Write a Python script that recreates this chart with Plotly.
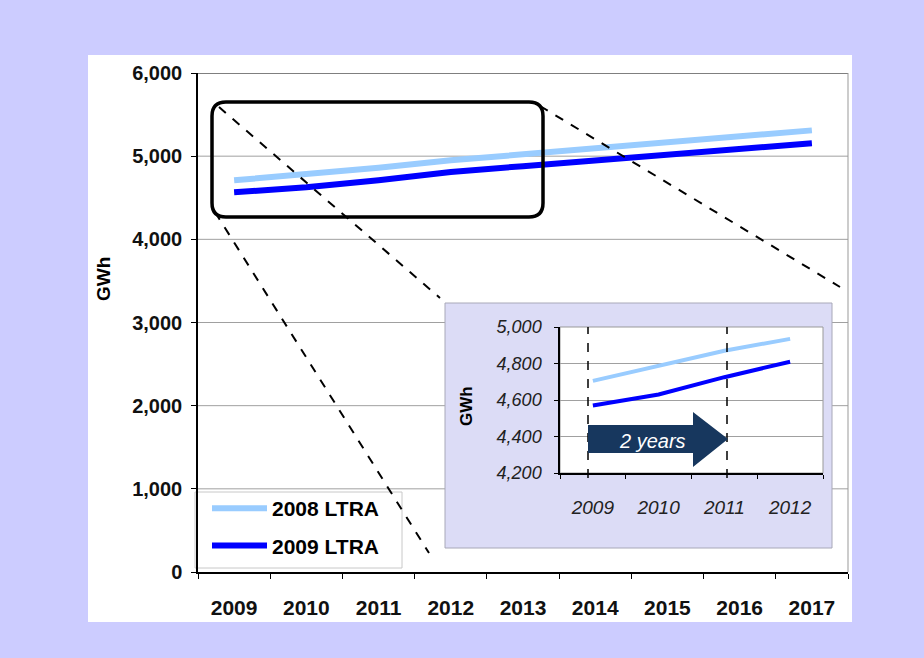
import plotly.graph_objects as go

# ---------------- data ----------------
years = ["2009", "2010", "2011", "2012", "2013", "2014", "2015", "2016", "2017"]
ltra_2008 = [4710, 4780, 4860, 4950, 5020, 5090, 5160, 5230, 5310]
ltra_2009 = [4565, 4625, 4710, 4810, 4880, 4950, 5030, 5090, 5155]

inset_years = ["2009", "2010", "2011", "2012"]
inset_2008 = [4705, 4785, 4870, 4935]
inset_2009 = [4570, 4630, 4725, 4810]

main_grid = [1000, 2000, 3000, 4000, 5000]

# ---------------- layout helpers ----------------
W, H = 924, 658
L, R, T, B = 198, 848, 73, 572


def px(x):
    return (x - L) / (R - L)


def py(y):
    return (B - y) / (B - T)


def pt(x, y):
    return f"{px(x):.5f},{py(y):.5f}"


LIGHT = "#99ccff"
DARK = "#0000ff"
FONT = "Liberation Sans, Arial, sans-serif"

fig = go.Figure()

fig.add_trace(go.Scatter(x=years, y=ltra_2008, mode="lines", name="2008 LTRA",
                         line=dict(color=LIGHT, width=6), legendgroup="a",
                         xaxis="x", yaxis="y"))
fig.add_trace(go.Scatter(x=years, y=ltra_2009, mode="lines", name="2009 LTRA",
                         line=dict(color=DARK, width=6), legendgroup="b",
                         xaxis="x", yaxis="y"))

fig.add_trace(go.Scatter(x=inset_years, y=inset_2008, mode="lines", showlegend=False,
                         line=dict(color=LIGHT, width=4), xaxis="x2", yaxis="y2"))
fig.add_trace(go.Scatter(x=inset_years, y=inset_2009, mode="lines", showlegend=False,
                         line=dict(color=DARK, width=4), xaxis="x2", yaxis="y2"))

shapes = []
# white panel
shapes.append(dict(type="rect", xref="paper", yref="paper", layer="below",
                   x0=px(88), x1=px(852), y0=py(622), y1=py(55),
                   fillcolor="white", line=dict(width=0)))
# main gridlines
for v in main_grid:
    shapes.append(dict(type="line", xref="paper", yref="y", layer="below",
                       x0=0, x1=1, y0=v, y1=v, line=dict(color="#a0a0a0", width=1)))
shapes.append(dict(type="line", xref="paper", yref="y", layer="below",
                   x0=0, x1=1, y0=6000, y1=6000, line=dict(color="#555555", width=1.5)))
shapes.append(dict(type="line", xref="paper", yref="paper", layer="below",
                   x0=1, x1=1, y0=0, y1=1, line=dict(color="#999999", width=1)))
# legend box
shapes.append(dict(type="rect", xref="paper", yref="paper", layer="below",
                   x0=px(195), x1=px(402), y0=py(568), y1=py(492),
                   fillcolor="white", line=dict(color="#c8c8c8", width=1)))
# inset panel
shapes.append(dict(type="rect", xref="paper", yref="paper", layer="below",
                   x0=px(445), x1=px(832), y0=py(548), y1=py(303),
                   fillcolor="#dcdcf6", line=dict(color="#a8a8b8", width=1)))
shapes.append(dict(type="rect", xref="paper", yref="paper", layer="below",
                   x0=px(560), x1=px(823), y0=py(473), y1=py(327),
                   fillcolor="white", line=dict(color="#999999", width=1)))

# rounded highlight rectangle
x0r, x1r, y0r, y1r, r = 212, 543, 102, 217, 14
path = (f"M {pt(x0r + r, y0r)} L {pt(x1r - r, y0r)} Q {pt(x1r, y0r)} {pt(x1r, y0r + r)} "
        f"L {pt(x1r, y1r - r)} Q {pt(x1r, y1r)} {pt(x1r - r, y1r)} "
        f"L {pt(x0r + r, y1r)} Q {pt(x0r, y1r)} {pt(x0r, y1r - r)} "
        f"L {pt(x0r, y0r + r)} Q {pt(x0r, y0r)} {pt(x0r + r, y0r)} Z")
shapes.append(dict(type="path", xref="paper", yref="paper", path=path,
                   line=dict(color="black", width=3.5)))
# dashed connector lines
for (xa, ya, xb, yb) in [(219, 107, 440, 298), (215, 212, 429, 553), (540, 106, 840, 287)]:
    shapes.append(dict(type="line", xref="paper", yref="paper",
                       x0=px(xa), y0=py(ya), x1=px(xb), y1=py(yb),
                       line=dict(color="black", width=2, dash="dash")))
# inset dashed verticals
for xv in (588, 727):
    shapes.append(dict(type="line", xref="paper", yref="paper",
                       x0=px(xv), x1=px(xv), y0=py(478), y1=py(327),
                       line=dict(color="black", width=1.5, dash="dash")))
# arrow
arrow = (f"M {pt(588, 425)} L {pt(693, 425)} L {pt(693, 412)} L {pt(728, 439)} "
         f"L {pt(693, 467)} L {pt(693, 453)} L {pt(588, 453)} Z")
shapes.append(dict(type="path", xref="paper", yref="paper", path=arrow,
                   fillcolor="#17375e", line=dict(width=0)))

annotations = [
    dict(text="GWh", xref="paper", yref="paper", x=px(103), y=py(279), showarrow=False,
         xanchor="center", yanchor="middle", textangle=-90,
         font=dict(family=FONT, size=19, color="black", weight="bold")),
    dict(text="GWh", xref="paper", yref="paper", x=px(466), y=py(406), showarrow=False,
         xanchor="center", yanchor="middle", textangle=-90,
         font=dict(family=FONT, size=17, color="black", weight="bold")),
    dict(text="2 years", xref="paper", yref="paper", x=px(652), y=py(441), showarrow=False,
         xanchor="center", yanchor="middle",
         font=dict(family=FONT, size=20, color="white", style="italic")),
]

fig.update_layout(
    width=W, height=H,
    margin=dict(l=L, r=W - R, t=T, b=H - B, pad=0),
    paper_bgcolor="#ccccff",
    plot_bgcolor="rgba(0,0,0,0)",
    shapes=shapes,
    annotations=annotations,
    showlegend=True,
    legend=dict(x=px(207), y=py(488), xanchor="left", yanchor="top",
                bgcolor="rgba(0,0,0,0)", borderwidth=0,
                tracegroupgap=7, itemwidth=55,
                font=dict(family=FONT, size=21, color="black", weight="bold")),
    xaxis=dict(type="category", domain=[0, 1], range=[-0.5, 8.5],
               tickson="boundaries", ticks="outside", ticklen=5, tickcolor="black",
               showline=True, linecolor="black", linewidth=1.5, showgrid=False,
               ticklabelstandoff=16,
               tickfont=dict(family=FONT, size=21, color="#111111", weight="bold")),
    yaxis=dict(range=[0, 6000], dtick=1000, tickformat=",", domain=[0, 1],
               ticks="outside", ticklen=5, tickcolor="black",
               showline=True, linecolor="black", linewidth=1.5,
               showgrid=False, zeroline=False, ticklabelstandoff=5,
               tickfont=dict(family=FONT, size=20, color="#111111", weight="bold")),
    xaxis2=dict(type="category", anchor="y2", domain=[px(560), px(823)], range=[-0.5, 3.5],
                tickson="boundaries", ticks="outside", ticklen=4, tickcolor="black",
                showline=True, linecolor="black", linewidth=1.5, showgrid=False,
                ticklabelstandoff=16,
                tickfont=dict(family=FONT, size=19, color="#222222", style="italic")),
    yaxis2=dict(anchor="x2", domain=[py(473), py(327)], range=[4200, 5000], dtick=200,
                tickformat=",", ticks="outside", ticklen=4, tickcolor="black",
                showline=True, linecolor="black", linewidth=1.5,
                showgrid=True, gridcolor="#a0a0a0", gridwidth=1, zeroline=False,
                ticklabelstandoff=9,
                tickfont=dict(family=FONT, size=18, color="#222222", style="italic")),
)

fig.write_html("out.html", config={"displayModeBar": False},
               post_script="document.body.style.margin='0px';")
